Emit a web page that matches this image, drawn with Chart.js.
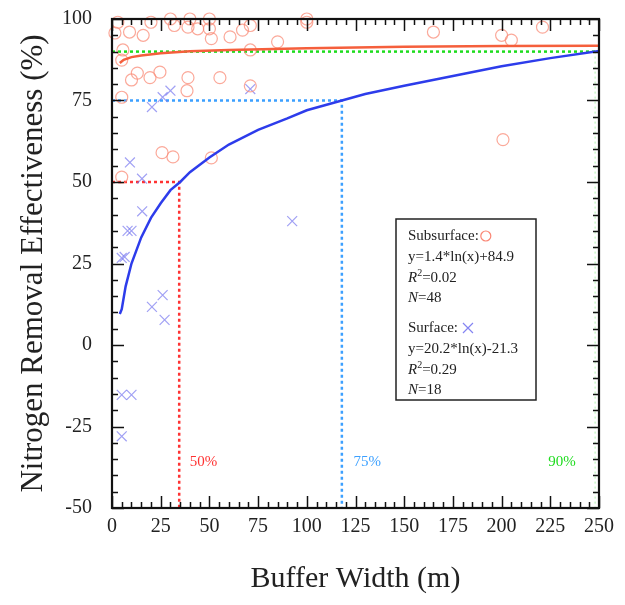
<!DOCTYPE html>
<html><head><meta charset="utf-8">
<script src="https://cdn.jsdelivr.net/npm/chart.js@4.4.1/dist/chart.umd.min.js"></script>
<style>html,body{margin:0;padding:0;background:#fff;}#wrap{width:625px;height:605px;}</style>
</head><body><div id="wrap"><canvas id="c" width="625" height="605"></canvas></div>
<script>
// ---- Data ----
const subsurfaceX = [1.5, 9, 16, 32, 39, 30, 40, 5.6, 5, 13, 19.5, 24.6, 10, 39, 38.5, 50, 50, 60.6, 67, 71, 51, 85, 71, 55.4, 71, 25.7, 31.3, 51, 5, 100, 165, 200, 205, 221, 200.7, 5, 44, 20, 3, 100];
const subsurfaceY = [95.7, 96, 95, 98, 97.5, 100, 100, 90.5, 87.4, 83.4, 82, 83.7, 81.3, 82, 78, 97, 100, 94.5, 96.6, 98, 94, 93, 90.5, 82, 79.5, 59, 57.7, 57.4, 51.5, 99, 96, 95, 93.5, 97.5, 63, 76, 97, 99, 99, 100];
const surfaceX = [20.5, 26, 30, 71, 9.2, 15.4, 15.5, 8, 10, 6.5, 5, 26, 20.5, 27, 5, 10, 5, 92.5];
const surfaceY = [73, 76, 78, 78.5, 56, 51, 41, 35, 35, 27, 26.7, 15.3, 11.7, 7.7, -15.3, -15.3, -28, 38];
const subFitX = [4, 6, 10, 15, 25, 40, 60, 100, 150, 200, 250];
const subFitY = [86.5, 87.5, 88.3, 88.8, 89.5, 90.1, 90.5, 91.0, 91.5, 91.7, 91.8];
const surfFitX = [4, 5, 7, 10, 15, 20, 25, 30, 35, 40, 50, 60, 75, 90, 100, 118, 130, 150, 175, 200, 225, 250];
const surfFitY = [9.5, 11, 18, 25, 33, 39, 43.5, 47.5, 50, 53, 57.5, 61.5, 66, 69.5, 72, 75, 77, 79.5, 82.5, 85.5, 88, 90.2];
const thresholdLevels = [50, 75, 90];
const thresholdWidths = [34.5, 118, 248];
const thresholdLabels = ["50%", "75%", "90%"];
const thresholdLabelX = [47, 131, 231];
const thresholdLabelY = -36;
const xTicks = [0, 25, 50, 75, 100, 125, 150, 175, 200, 225, 250];
const yTicks = [-50, -25, 0, 25, 50, 75, 100];
const legendLines = ["Subsurface:", "y=1.4*ln(x)+84.9", "R2=0.02", "N=48", "Surface:", "y=20.2*ln(x)-21.3", "R2=0.29", "N=18"];

const SERIF = '"Liberation Serif", "Times New Roman", serif';
const thrColors = ['rgb(255,50,50)', 'rgb(60,160,255)', 'rgb(30,220,30)'];
const zip = (xs, ys) => xs.map((x, i) => ({x, y: ys[i]}));

const datasets = [];
thresholdLevels.forEach((lvl, i) => {
  if (i < 2) {
    datasets.push({type:'scatter', data:[{x:0,y:lvl},{x:thresholdWidths[i],y:lvl},{x:thresholdWidths[i],y:-50}],
      showLine:true, borderColor:thrColors[i], borderWidth:2.5, borderDash:[3,3], pointRadius:0, fill:false, order:5});
  } else {
    datasets.push({type:'scatter', data:[{x:0,y:lvl},{x:250,y:lvl}],
      showLine:true, borderColor:thrColors[i], borderWidth:2.5, borderDash:[3,3], pointRadius:0, fill:false, order:5});
    datasets.push({type:'scatter', data:[{x:thresholdWidths[i],y:lvl},{x:thresholdWidths[i],y:-50}],
      showLine:true, borderColor:'rgba(120,235,120,0.6)', borderWidth:1, borderDash:[2,3], pointRadius:0, fill:false, order:5});
  }
});
datasets.push({type:'scatter', label:'Subsurface', data:zip(subsurfaceX, subsurfaceY), pointStyle:'circle', pointRadius:6,
  borderColor:'rgba(250,140,120,0.75)', backgroundColor:'rgba(0,0,0,0)', pointBorderWidth:1.2, order:3, clip:false});
datasets.push({type:'scatter', label:'Surface', data:zip(surfaceX, surfaceY), pointStyle:'crossRot', pointRadius:7,
  borderColor:'rgba(120,120,240,0.7)', backgroundColor:'rgba(0,0,0,0)', pointBorderWidth:1.2, order:3});
datasets.push({type:'scatter', data:zip(subFitX, subFitY), showLine:true, borderColor:'rgb(245,95,60)', borderWidth:2.5, pointRadius:0, order:1});
datasets.push({type:'scatter', data:zip(surfFitX, surfFitY), showLine:true, borderColor:'rgb(45,60,235)', borderWidth:2.5, pointRadius:0, order:1});

const framePlugin = {
  id:'frame',
  afterDatasetsDraw(chart) {
    const {ctx, chartArea:a, scales:{x, y}} = chart;
    ctx.save();
    ctx.font = '15px ' + SERIF;
    ctx.textAlign = 'center'; ctx.textBaseline = 'middle';
    thresholdLabels.forEach((t, i) => {
      ctx.fillStyle = thrColors[i];
      ctx.fillText(t, x.getPixelForValue(thresholdLabelX[i]), y.getPixelForValue(thresholdLabelY));
    });
    ctx.strokeStyle = '#111'; ctx.lineWidth = 1.5;
    ctx.beginPath();
    for (let v = 0; v <= 250; v += 5) {
      const px = Math.round(x.getPixelForValue(v)) + 0.5;
      const len = (v % 25 === 0) ? 12 : 6;
      ctx.moveTo(px, a.bottom); ctx.lineTo(px, a.bottom - len);
      ctx.moveTo(px, a.top); ctx.lineTo(px, a.top + len);
    }
    for (let v = -50; v <= 100; v += 5) {
      const py = Math.round(y.getPixelForValue(v)) + 0.5;
      const len = (v % 25 === 0) ? 12 : 6;
      ctx.moveTo(a.left, py); ctx.lineTo(a.left + len, py);
      ctx.moveTo(a.right, py); ctx.lineTo(a.right - len, py);
    }
    ctx.stroke();
    ctx.lineWidth = 2.2;
    ctx.strokeRect(a.left, a.top, a.right - a.left, a.bottom - a.top);
    const bx = 396, by = 219, bw = 140, bh = 181;
    ctx.fillStyle = '#fff';
    ctx.fillRect(bx, by, bw, bh);
    ctx.lineWidth = 1.5; ctx.strokeStyle = '#222';
    ctx.strokeRect(bx, by, bw, bh);
    const ys = [236, 257, 278, 298, 328, 349, 370, 390];
    ctx.textAlign = 'left'; ctx.textBaseline = 'middle'; ctx.fillStyle = '#222';
    legendLines.forEach((t, i) => {
      const tx = 408, ty = ys[i];
      if (t.startsWith('R2')) {
        ctx.font = 'italic 15px ' + SERIF; ctx.fillText('R', tx, ty);
        let w = ctx.measureText('R').width;
        ctx.font = '10px ' + SERIF; ctx.fillText('2', tx + w, ty - 5);
        w += ctx.measureText('2').width;
        ctx.font = '15px ' + SERIF; ctx.fillText(t.slice(2), tx + w, ty);
      } else if (t.startsWith('N=')) {
        ctx.font = 'italic 15px ' + SERIF; ctx.fillText('N', tx, ty);
        const w = ctx.measureText('N').width;
        ctx.font = '15px ' + SERIF; ctx.fillText(t.slice(1), tx + w, ty);
      } else {
        ctx.font = '15px ' + SERIF; ctx.fillText(t, tx, ty);
        const w = ctx.measureText(t).width;
        if (i === 0) {
          ctx.strokeStyle = 'rgba(250,120,100,0.9)'; ctx.lineWidth = 1.2;
          ctx.beginPath(); ctx.arc(tx + w + 7, ty, 5, 0, Math.PI * 2); ctx.stroke();
        } else if (i === 4) {
          ctx.strokeStyle = 'rgba(110,110,240,0.85)'; ctx.lineWidth = 1.2;
          const cx = tx + w + 10, r = 5;
          ctx.beginPath(); ctx.moveTo(cx - r, ty - r); ctx.lineTo(cx + r, ty + r);
          ctx.moveTo(cx + r, ty - r); ctx.lineTo(cx - r, ty + r); ctx.stroke();
        }
      }
    });
    ctx.restore();
  }
};

new Chart(document.getElementById('c'), {
  type:'scatter',
  data:{datasets},
  options:{
    responsive:false, animation:false, devicePixelRatio:1,
    layout:{padding:{top:19, right:26, left:0, bottom:0}},
    plugins:{legend:{display:false}, tooltip:{enabled:false}},
    scales:{
      x:{type:'linear', min:0, max:250,
        afterBuildTicks:(s) => { s.ticks = xTicks.map(v => ({value:v})); },
        afterFit:(s) => { s.height = 97; s.paddingLeft = 0; s.paddingRight = 0; },
        grid:{display:false, drawTicks:false}, border:{display:false},
        ticks:{font:{family:SERIF, size:20}, color:'#222', padding:7, maxRotation:0},
        title:{display:true, text:'Buffer Width (m)', font:{family:SERIF, size:30}, color:'#222', padding:{top:0, bottom:8}}},
      y:{type:'linear', min:-50, max:100,
        afterBuildTicks:(s) => { s.ticks = yTicks.map(v => ({value:v})); },
        afterFit:(s) => { s.width = 112; s.paddingTop = 0; s.paddingBottom = 0; },
        grid:{display:false, drawTicks:false}, border:{display:false},
        ticks:{font:{family:SERIF, size:20}, color:'#222', padding:20},
        title:{display:true, text:'Nitrogen Removal Effectiveness (%)', font:{family:SERIF, size:31}, color:'#222', padding:{top:15, bottom:0}}}
    }
  },
  plugins:[framePlugin]
});
</script></body></html>
